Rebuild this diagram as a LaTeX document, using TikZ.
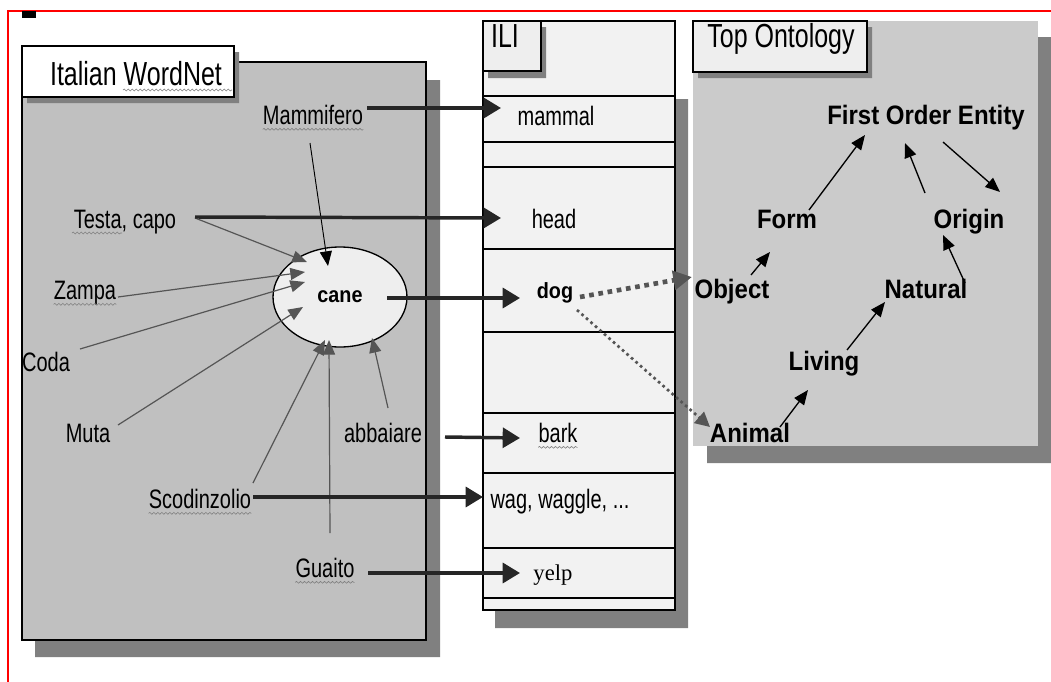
\documentclass[tikz,border=0pt]{standalone}
\usepackage{fontspec}
\setmainfont{Liberation Sans}
\newfontfamily\wnfont[FakeStretch=0.75]{Liberation Sans}
\newfontfamily\onfont[FakeStretch=0.9]{Liberation Sans}
\newfontfamily\ilserif{Liberation Serif}
\usetikzlibrary{arrows.meta,shapes.geometric,decorations.pathmorphing}
\definecolor{panelgray}{HTML}{C0C0C0}
\definecolor{ontogray}{HTML}{CBCBCB}
\definecolor{shadowgray}{HTML}{808080}
\definecolor{iligray}{HTML}{F2F2F2}
\definecolor{tabgray}{HTML}{EEEEEE}
\definecolor{linkgray}{HTML}{555555}
\definecolor{inkdark}{HTML}{262626}
\begin{document}
\begin{tikzpicture}[x=0.75pt,y=-0.75pt,
	word/.style={font=\wnfont\fontsize{20pt}{22pt}\selectfont, anchor=base, inner sep=0pt},
	concept/.style={font=\onfont\bfseries\fontsize{20pt}{22pt}\selectfont, anchor=base, inner sep=0pt},
	boxtitle/.style={font=\wnfont\fontsize{25pt}{27pt}\selectfont, anchor=base, inner sep=0pt},
	wavy/.style={draw=gray, line width=0.45pt, decorate, decoration={snake, segment length=3pt, amplitude=0.7pt}},
	relation/.style={draw=linkgray, line width=0.9pt, -{Triangle[length=11pt, width=9pt]}},
	mapping/.style={draw=inkdark, line width=2.6pt, -{Triangle[length=13pt, width=15pt]}},
	isa/.style={draw=black, line width=1pt, -{Triangle[length=11pt, width=9pt]}},
	eqlink/.style={draw=linkgray, -{Triangle[length=14pt, width=14pt]}}]
	\useasboundingbox (0,0) rectangle (1051,682);
	\draw [red, line width=0.8pt] (8,682) -- (8,11) -- (1051,11);
	\fill (22,11) rectangle (36,18);
	\fill [shadowgray] (35,80) rectangle (440,657) (495,99) rectangle (688,628) (707,37) rectangle (1051,463);
	\filldraw [fill=panelgray, line width=1.2pt] (22,62) rectangle (426,640);
	\filldraw [fill=iligray, line width=1.2pt] (483,21) rectangle (675,610);
	\foreach \ry in {96,142,167,249,332,413,473,548,598} \draw [line width=1.2pt] (483,\ry) -- (675,\ry);
	\fill [ontogray] (693,21) rectangle (1038,446);
	\fill [shadowgray] (27,52) rectangle (239,103) (488,27) rectangle (546,78) (698,27) rectangle (872,78);
	\filldraw [fill=white, line width=1.2pt] (22,46) rectangle (234,97);
	\filldraw [fill=tabgray, line width=1.2pt] (483,21) rectangle (541,71);
	\filldraw [fill=tabgray, line width=1.2pt] (693,21) rectangle (867,72);
	\node [boxtitle] (wntitle) at (136,85) {Italian WordNet};
	\node [boxtitle] (ilititle) at (505,47) {ILI};
	\node [boxtitle] (ontotitle) at (781,47) {Top Ontology};
	\node [ellipse, draw, fill=tabgray, line width=1pt, minimum width=100.5pt, minimum height=75pt, inner sep=0pt, font=\onfont\bfseries\fontsize{16.5pt}{18pt}\selectfont] (cane) at (340,297) {cane};
	\node [word] (mammifero) at (313,124) {Mammifero};
	\node [word] (testa) at (125,228) {Testa, capo};
	\node [word] (zampa) at (85,299) {Zampa};
	\node [word] (coda) at (46,371) {Coda};
	\node [word] (muta) at (88,442) {Muta};
	\node [word] (abbaiare) at (383,442) {abbaiare};
	\node [word] (scod) at (200,508) {Scodinzolio};
	\node [word] (guaito) at (325,577) {Guaito};
	\node [word] (mammal) at (556,125) {mammal};
	\node [word] (head) at (554,228) {head};
	\node [word, font=\onfont\bfseries\fontsize{16.5pt}{18pt}\selectfont] (dog) at (555,298) {dog};
	\node [word] (bark) at (558,442) {bark};
	\node [word] (wag) at (560,508) {wag, waggle, ...};
	\node [word, font=\ilserif\fontsize{17pt}{19pt}\selectfont] (yelp) at (553,580) {yelp};
	\node [concept] (foe) at (926,124) {First Order Entity};
	\node [concept] (form) at (787,228) {Form};
	\node [concept] (origin) at (969,228) {Origin};
	\node [concept] (object) at (732,298) {Object};
	\node [concept] (natural) at (926,298) {Natural};
	\node [concept] (living) at (824,370) {Living};
	\node [concept] (animal) at (750,442) {Animal};
	\draw [wavy] ([shift={(-13,5)}]wntitle.base) -- ([shift={(96,5)}]wntitle.base);
	\draw [wavy] ([shift={(-53,5)}]testa.base) -- ([shift={(-3,5)}]testa.base);
	\foreach \w in {mammifero,zampa,scod,guaito,bark,animal} \draw [wavy] ([yshift=-4pt]\w.base west) -- ([yshift=-4pt]\w.base east);
	\draw [relation, draw=black, line width=0.7pt] ([shift={(-3,19)}]mammifero.base) -- ([shift={(-12,-31)}]cane.center);
	\foreach \w/\sx/\sy/\ex/\ey in {testa/70/-10/-33/-35, zampa/33/-2/-35/-25, coda/34/-22/-35/-15, muta/30/-17/-37/10, scod/53/-25/-15/43, guaito/5/-44/-11/43, abbaiare/5/-34/32/41}
		\draw [relation] ([shift={(\sx,\sy)}]\w.base) -- ([shift={(\ex,\ey)}]cane.center);
	\foreach \w/\sx/\sy/\t/\ex/\ey in {mammifero/54/-16/mammal/-55/-17, testa/70/-11/head/-53/-10, abbaiare/62/-5/bark/-38/-4, scod/53/-11/wag/-77/-11, guaito/43/-4/yelp/-33/-7}
		\draw [mapping] ([shift={(\sx,\sy)}]\w.base) -- ([shift={(\ex,\ey)}]\t.base);
	\draw [mapping] ([shift={(47,1)}]cane.center) -- ([shift={(-35,0)}]dog.base);
	\draw [eqlink, line width=3.5pt, dash pattern=on 3.5pt off 3.5pt] ([shift={(25,-1)}]dog.base) -- ([shift={(-40,-21)}]object.base);
	\draw [eqlink, line width=2pt, dash pattern=on 2pt off 2.5pt, -{Triangle[length=11pt, width=11pt]}] ([shift={(22,12)}]dog.base) -- ([shift={(-40,-15)}]animal.base);
	\foreach \a/\sx/\sy/\b/\ex/\ey in {form/22/-18/foe/-61/11, origin/-44/-35/foe/-21/19, foe/17/18/origin/31/-36, object/19/-23/form/-17/24, natural/39/-15/origin/-26/7, living/23/-20/natural/-41/4, animal/30/-15/living/-16/20}
		\draw [isa] ([shift={(\sx,\sy)}]\a.base) -- ([shift={(\ex,\ey)}]\b.base);
\end{tikzpicture}
\end{document}
